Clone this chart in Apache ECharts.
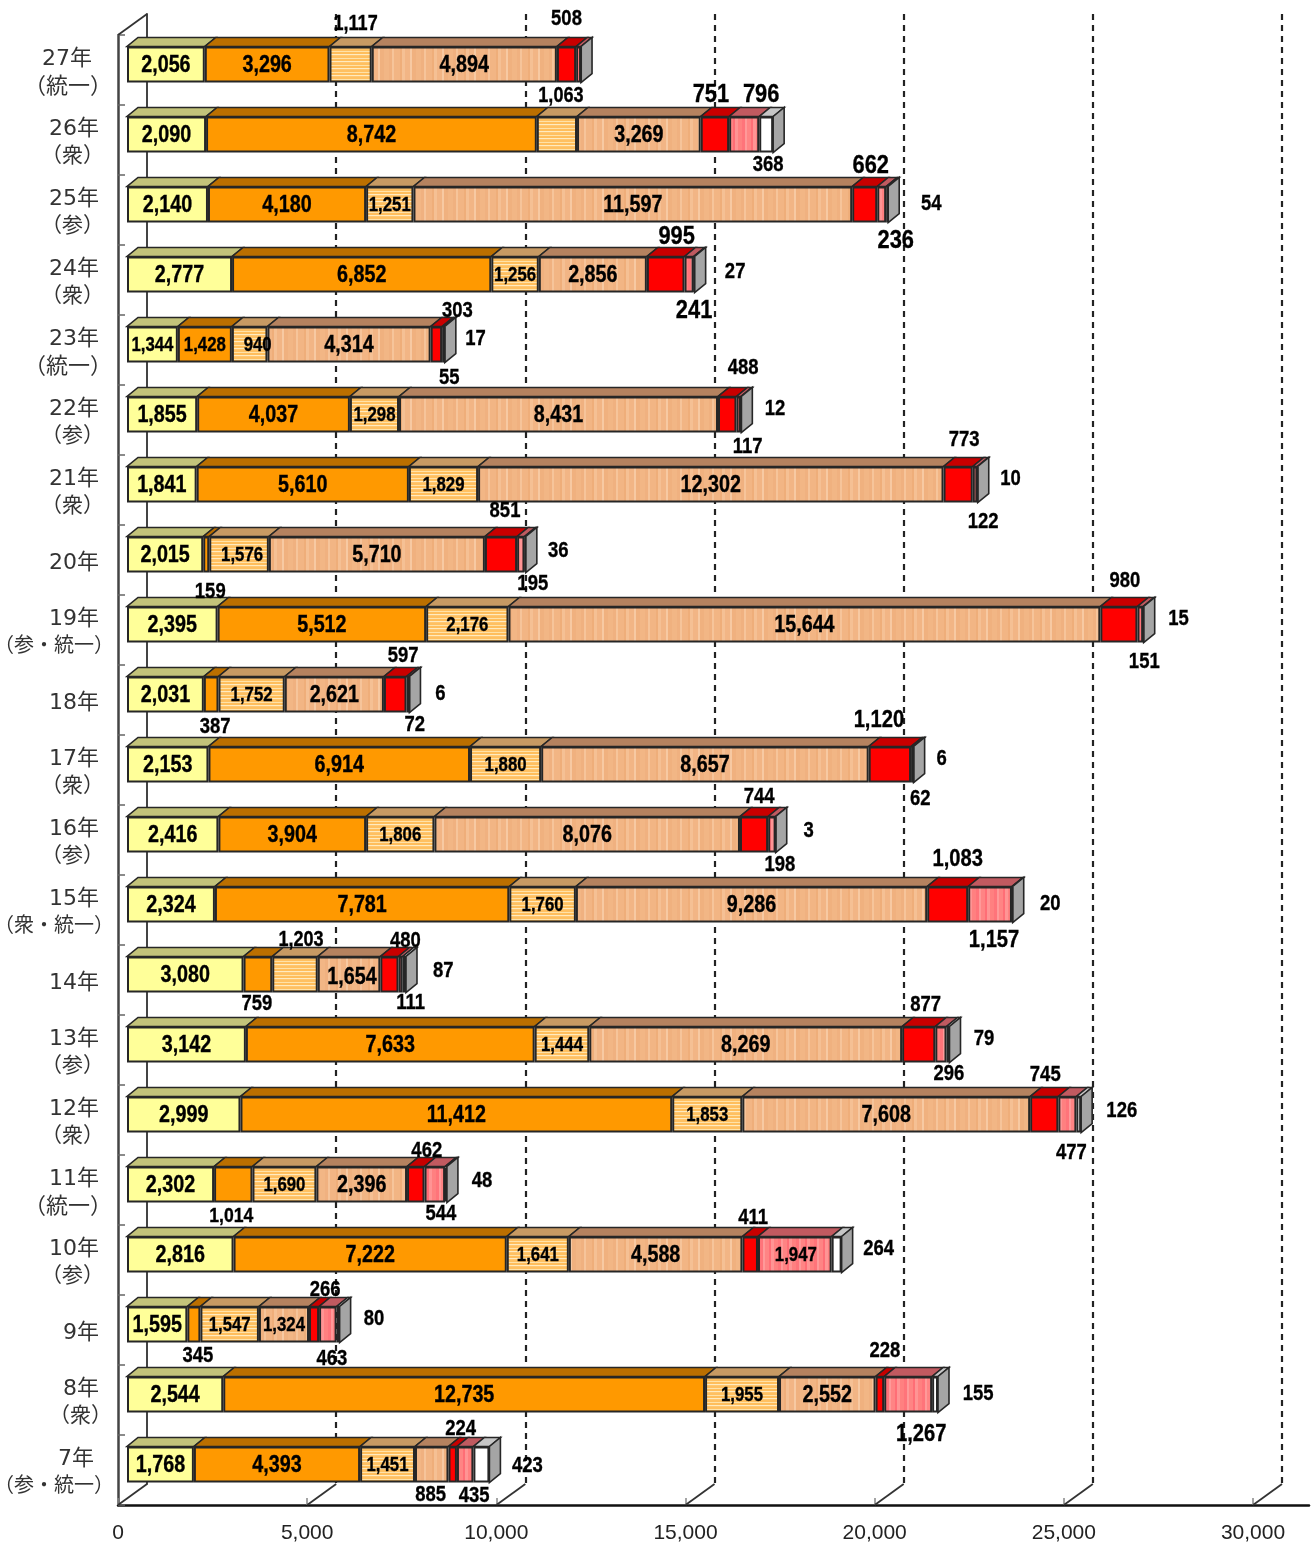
<!DOCTYPE html>
<html><head><meta charset="utf-8">
<style>html,body{margin:0;padding:0;background:#fff}#c{width:1314px;height:1544px}</style>
<script src="https://cdn.jsdelivr.net/npm/echarts@6/dist/echarts.min.js"></script>
</head><body><div id="c"></div>
<script>
const categories = ['27年\n（統一）','26年\n（衆）','25年\n（参）','24年\n（衆）','23年\n（統一）','22年\n（参）','21年\n（衆）','20年','19年\n（参・統一）','18年','17年\n（衆）','16年\n（参）','15年\n（衆・統一）','14年','13年\n（参）','12年\n（衆）','11年\n（統一）','10年\n（参）','9年','8年\n（衆）','7年\n（参・統一）'];
const seriesA = [2056,2090,2140,2777,1344,1855,1841,2015,2395,2031,2153,2416,2324,3080,3142,2999,2302,2816,1595,2544,1768];
const seriesB = [3296,8742,4180,6852,1428,4037,5610,159,5512,387,6914,3904,7781,759,7633,11412,1014,7222,345,12735,4393];
const seriesC = [1117,1063,1251,1256,940,1298,1829,1576,2176,1752,1880,1806,1760,1203,1444,1853,1690,1641,1547,1955,1451];
const seriesD = [4894,3269,11597,2856,4314,8431,12302,5710,15644,2621,8657,8076,9286,1654,8269,7608,2396,4588,1324,2552,885];
const seriesE = [508,751,662,995,303,488,773,851,980,597,1120,744,1083,480,877,745,462,411,266,228,224];
const seriesF = [130,796,236,241,55,117,122,195,151,72,62,198,1157,111,296,477,544,1947,463,1267,435];
const seriesG = [0,368,54,27,17,12,10,36,15,6,6,3,20,87,79,126,48,264,80,155,423];
const tickLabels = [0,5000,10000,15000,20000,25000,30000];
const seriesValues = [seriesA,seriesB,seriesC,seriesD,seriesE,seriesF,seriesG];

// label placement relative to each segment's centre: row -> segment -> [dx, dy]; null = no label
const labelShift = [
 {2:[5,-41],4:[0,-47],5:null,6:null},
 {2:[4,-39],4:[-4,-41],5:[17,-41],6:[2,29]},
 {4:[6,-40],5:[14,35],6:[44,-2]},
 {4:[11,-39],5:[5,35],6:[41,-4]},
 {2:[8,0],4:[21,-35],5:[6,32],6:[31,-7]},
 {4:[16,-48],5:[9,31],6:[34,-7]},
 {4:[6,-46],5:[8,36],6:[33,-7]},
 {1:[4,36],2:[3,0],4:[4,-45],5:[12,28],6:[33,-5]},
 {4:[6,-45],5:[4,36],6:[35,-7]},
 {1:[4,31],4:[8,-40],5:[7,29],6:[31,-2]},
 {4:[-11,-45],5:[8,33],6:[28,-7]},
 {4:[5,-39],5:[8,29],6:[33,-5]},
 {4:[10,-46],5:[4,35],6:[38,-2]},
 {1:[-1,28],2:[6,-35],3:[3,2],4:[16,-35],5:[10,27],6:[39,-5]},
 {4:[7,-41],5:[8,28],6:[36,-7]},
 {4:[1,-41],5:[4,37],6:[43,-5]},
 {1:[-2,31],4:[11,-35],5:[6,28],6:[36,-5]},
 {4:[3,-38],5:[1,0],6:[42,-7]},
 {1:[4,30],4:[11,-36],5:[4,33],6:[36,-7]},
 {4:[5,-45],5:[13,39],6:[43,-2]},
 {3:[-1,29],4:[8,-37],5:[9,30],6:[46,0]}
];
const bigOutside = [751,796,662,236,995,241];
const wideOutside = [1120,1083,1157,1267];
const smallInside = [1344,1428,940,1947,1324];

function stripes(list, horizontal){
  const len = list.reduce((a,b)=>a+b[0],0);
  const cv = document.createElement('canvas');
  cv.width = horizontal?8:len; cv.height = horizontal?len:8;
  const g = cv.getContext('2d'); let p=0;
  list.forEach(([w,col])=>{ g.fillStyle=col;
    if(horizontal) g.fillRect(0,p,8,w); else g.fillRect(p,0,w,8); p+=w; });
  return {image:cv, repeat:'repeat'};
}
const fills = ['#FFFF99','#FF9900',
  stripes([[2,'#FFC061'],[1,'#FFE2A8'],[2,'#FFBE5C'],[1,'#FFEBC0'],[1,'#FFC670']],true),
  stripes([[5,'#F2B685'],[3,'#F0B180'],[2,'#F6C49A'],[6,'#F2B584'],[2,'#EFAE7A'],[3,'#F5C094'],[5,'#F2B585'],[2,'#F7C9A2'],[4,'#F0B17F']],false),
  '#FF0000',
  stripes([[4,'#FF8080'],[3,'#FF747A'],[2,'#FF9999'],[4,'#FF8484'],[2,'#FF6E76'],[3,'#FF9494']],false),
  '#FFFFFF'];
const tops = ['#C3C37A','#BB6F00','#C79A63','#B5825F','#C80000','#C05A60','#C6C6C6'];
const sideColor = '#A5A5A5', edge = '#262626', ink = '#000';
const depthX = 11, depthY = 9, halfBar = 18;

const barSeries = seriesValues.map((vals,s)=>({
  type:'bar', stack:'t', xAxisIndex:1, yAxisIndex:1, barWidth:36, z:3,
  itemStyle:{color:fills[s], borderColor:edge, borderWidth:2},
  data: vals
}));

const faceData = [], labelItems = [];
categories.forEach((c,r)=>{ let cum=0;
  seriesValues.forEach((vals,s)=>{
    const v=vals[r];
    faceData.push([cum,cum+v,r,s]);
    const has=Object.prototype.hasOwnProperty.call(labelShift[r],s);
    const sh=labelShift[r][s];
    if(!(has&&sh===null)){
      const outside=(has&&Math.abs(sh[1])>2)||s===6;
      let size=23.5;
      if(outside) size=22;
      if(s===2) size=outside?21.5:20;
      if(!outside&&smallInside.includes(v)) size=20;
      if(v===1014) size=21;
      if(outside&&bigOutside.includes(v)) size=26;
      if(wideOutside.includes(v)) size=24;
      const lift = outside?1:(size<=20?0.5:1.5);
      labelItems.push({at:cum+v/2,row:r,text:v.toLocaleString('en-US'),size,dx:sh?sh[0]:0,dy:(sh?sh[1]:0)+lift});
    }
    cum+=v;
  });
});
const faces = {
  type:'custom', xAxisIndex:1, yAxisIndex:1, z:3, silent:true, clip:false,
  encode:{x:[0,1],y:2},
  data:faceData,
  renderItem:(params,api)=>{
    const a=api.coord([api.value(0),api.value(2)]), b=api.coord([api.value(1),api.value(2)]);
    const s=api.value(3), y=a[1];
    const kids=[{type:'polygon',shape:{points:[[a[0],y-halfBar],[b[0],y-halfBar],[b[0]+depthX,y-halfBar-depthY],[a[0]+depthX,y-halfBar-depthY]]},
      style:{fill:tops[s],stroke:edge,lineWidth:1.6}}];
    if(s===6) kids.push({type:'polygon',shape:{points:[[b[0],y-halfBar],[b[0]+depthX,y-halfBar-depthY],[b[0]+depthX,y+halfBar-depthY],[b[0],y+halfBar]]},
      style:{fill:sideColor,stroke:edge,lineWidth:1.6}});
    return {type:'group',children:kids};
  }
};
const valueLabels = {
  type:'custom', xAxisIndex:1, yAxisIndex:1, z:5, silent:true, clip:false,
  encode:{x:0,y:1},
  data:labelItems.map(l=>[l.at,l.row]),
  renderItem:(params,api)=>{
    const l=labelItems[params.dataIndex], p=api.coord([l.at,l.row]);
    return {type:'text',x:p[0]+l.dx,y:p[1]+l.dy,scaleX:0.84,
      style:{text:l.text,align:'center',verticalAlign:'middle',fontSize:l.size,fontWeight:'bold',
        fontFamily:'"Liberation Sans",sans-serif',fill:ink,stroke:ink,lineWidth:0.35}};
  }
};
const diagonals = {
  type:'custom', xAxisIndex:0, yAxisIndex:0, z:1, silent:true, clip:false,
  encode:{x:0},
  data:tickLabels.map(v=>[v]),
  renderItem:(params,api)=>{
    const p=api.coord([api.value(0),categories.length-1]);
    const bottom=p[1]+api.size([0,1])[1]/2;
    const items=[{type:'line',shape:{x1:p[0],y1:bottom,x2:p[0]+29,y2:bottom-21},style:{stroke:'#333',lineWidth:1.8}}];
    if(api.value(0)===0){
      const t=api.coord([0,0]); const top=t[1]-api.size([0,1])[1]/2;
      items.push({type:'line',shape:{x1:t[0],y1:top,x2:t[0]+29,y2:top-21},style:{stroke:'#333',lineWidth:1.8}});
    }
    return {type:'group',children:items};
  }
};

const rightPad = {'27年':22,'7年':20};
const parenPad = {'（衆）':10,'（参）':10,'（統一）':2,'（参・統一）':0,'（衆・統一）':0};
const parenSize = {'（統一）':22,'（参・統一）':20,'（衆・統一）':20};
const rich = {};
const labelStyle = (pad,size)=>({padding:[0,pad,0,0],fontSize:size,lineHeight:28,color:'#333',fontFamily:'"DejaVu Sans","Noto Sans CJK JP"',align:'right'});
for(let i=0;i<=30;i++){ [20,21,22].forEach(sz=>{ rich['p'+i+'s'+sz]=labelStyle(i,sz); }); }

const chart = echarts.init(document.getElementById('c'),null,{renderer:'canvas'});
chart.setOption({
  animation:false, backgroundColor:'#fff',
  grid:[
    {left:118,top:35,width:1191,height:1470,outerBoundsMode:'none'},
    {left:127,top:29.5,width:1135,height:1470,outerBoundsMode:'none'},
    {left:147,top:14,width:1135,height:1470,outerBoundsMode:'none'}
  ],
  xAxis:[
    {gridIndex:0,type:'value',min:0,max:31480,splitLine:{show:false},
     axisLine:{show:true,onZero:false,lineStyle:{color:'#111',width:2.5}},
     axisTick:{show:true,inside:true,length:7,lineStyle:{color:'#888',width:1.5},customValues:tickLabels},
     axisLabel:{customValues:tickLabels,margin:18,fontSize:21,color:'#222',fontFamily:'"Liberation Sans"',formatter:v=>Number(v).toLocaleString('en-US')}},
    {gridIndex:1,type:'value',min:0,max:30000,show:false},
    {gridIndex:2,type:'value',min:0,max:30000,interval:5000,axisLine:{show:false},axisTick:{show:false},axisLabel:{show:false},
     splitLine:{show:true,showMinLine:false,lineStyle:{color:'#222',width:2.2,type:[6,5]}}}
  ],
  yAxis:[
    {gridIndex:0,type:'category',inverse:true,data:categories,
     axisLine:{show:true,lineStyle:{color:'#444',width:2.5}},
     axisTick:{show:true,inside:true,length:7,lineStyle:{color:'#666',width:1.5}},
     axisLabel:{margin:4,align:'right',interval:0,padding:[6,0,0,0],
       formatter:(v,i)=>{
         const [y,p]=String(v).split('\n');
         const yp = rightPad[y]!==undefined?rightPad[y]:15;
         let pp = parenPad[p];
         if(y==='8年') pp=2;
         let out='{p'+yp+'s22|'+y+'}';
         if(p) out+='\n{p'+pp+'s'+(parenSize[p]||21)+'|'+p+'}';
         return out;
       },rich:rich}},
    {gridIndex:1,type:'category',inverse:true,data:categories,show:false},
    {gridIndex:2,type:'category',inverse:true,data:categories,
     axisLine:{show:true,lineStyle:{color:'#444',width:2}},axisTick:{show:false},axisLabel:{show:false},splitLine:{show:false}}
  ],
  series:[diagonals,...barSeries,faces,valueLabels]
});
</script></body></html>
